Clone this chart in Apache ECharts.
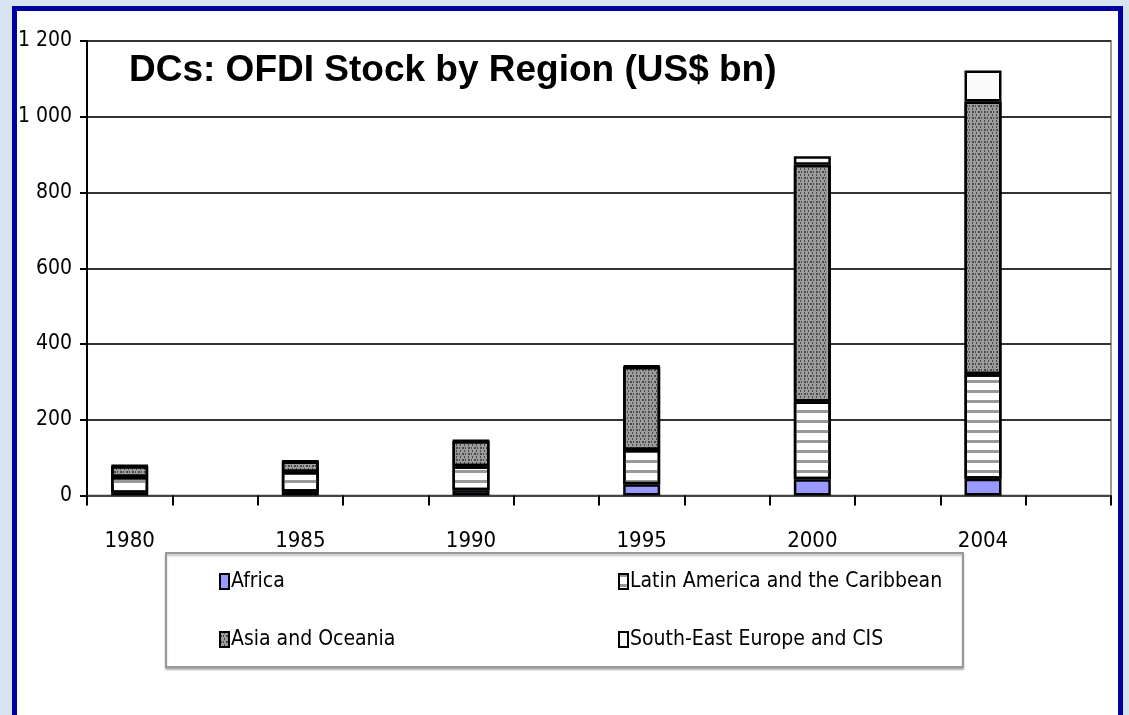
<!DOCTYPE html>
<html>
<head>
<meta charset="utf-8">
<script src="https://cdn.jsdelivr.net/npm/echarts@6/dist/echarts.min.js"></script>
<style>
    html, body { margin: 0; padding: 0; background: #d8e3f1; }
    #main { width: 1129px; height: 715px; }
</style>
</head>
<body>
<div id="main"></div>
<script>
// values (US$ bn, stacked)
const years = ['1980', '1985', '1990', '1995', '2000', '2004'];
const africa = [7, 10, 14, 30, 43, 44];
const latinAmerica = [42, 52, 63, 90, 205, 276];
const asiaOceania = [29, 28, 67, 220, 625, 720];
const seEurope = [1, 1, 1, 2, 23, 82];
const yTicks = [0, 200, 400, 600, 800, 1000, 1200];

const narrow = '"Liberation Sans Narrow", "Arial Narrow", "DejaVu Sans Condensed", sans-serif';

// every year sits in its own slot with an empty slot after it
let slots = [];
years.forEach(y => { slots.push(y); slots.push(''); });
function spread(arr) {
    let out = [];
    arr.forEach(v => { out.push(v); out.push('-'); });
    return out;
}

let chart = echarts.init(document.getElementById('main'));

let barBase = {
    type: 'bar',
    stack: 'total',
    barWidth: 37,
    emphasis: { disabled: true }
};

let legendBase = {
    orient: 'vertical',
    top: 566,
    itemGap: 37,
    itemWidth: 9,
    itemHeight: 15,
    icon: 'rect',
    selectedMode: false,
    itemStyle: { borderColor: '#000', borderWidth: 2 },
    textStyle: { fontFamily: narrow, fontSize: 21, color: '#000', padding: [0, 0, 0, -3] }
};

const option = {
    animation: false,
    graphic: [{
        type: 'rect',
        z: -10,
        shape: { x: 14.5, y: 8.5, width: 1106, height: 800 },
        style: { fill: '#fff', stroke: '#0000a0', lineWidth: 5 }
    }, {
        // legend frame
        type: 'rect',
        z: -5,
        shape: { x: 166, y: 553, width: 797, height: 114 },
        style: { fill: '#fff', stroke: '#999', lineWidth: 2, shadowColor: 'rgba(0,0,0,0.25)', shadowOffsetY: 2, shadowBlur: 2 }
    }],
    title: {
        text: 'DCs: OFDI Stock by Region (US$ bn)',
        left: 124,
        top: 47,
        textStyle: { fontFamily: 'Liberation Sans, Arial, sans-serif', fontSize: 37, fontWeight: 'bold', color: '#000' }
    },
    grid: {
        left: 87,
        right: 18,
        top: 41,
        bottom: 219.5,
        show: true,
        borderColor: '#999',
        borderWidth: 2,
        backgroundColor: 'transparent'
    },
    legend: [
        Object.assign({}, legendBase, { left: 214, data: ['Africa', 'Asia and Oceania'] }),
        Object.assign({}, legendBase, { left: 613, data: ['Latin America and the Caribbean', 'South-East Europe and CIS'] })
    ],
    xAxis: {
        type: 'category',
        data: slots,
        axisLine: { lineStyle: { color: '#444', width: 2 } },
        axisTick: { show: true, interval: 0, length: 10, lineStyle: { color: '#000', width: 2 } },
        axisLabel: { interval: 0, margin: 35, fontFamily: narrow, fontSize: 22, color: '#000' }
    },
    yAxis: {
        type: 'value',
        min: yTicks[0],
        max: yTicks[yTicks.length - 1],
        interval: 200,
        axisLine: { show: true, lineStyle: { color: '#000', width: 2 } },
        axisTick: { show: true, length: 7, lineStyle: { color: '#000', width: 2 } },
        axisLabel: {
            margin: 15,
            fontFamily: narrow,
            fontSize: 21,
            color: '#000',
            formatter: v => String(v).replace(/\B(?=(\d{3})+(?!\d))/g, ' ')
        },
        splitLine: { lineStyle: { color: '#333', width: 2 } }
    },
    series: [
        Object.assign({}, barBase, {
            name: 'Africa',
            itemStyle: { color: '#9999ff', borderColor: '#000', borderWidth: 2.5 },
            data: spread(africa)
        }),
        Object.assign({}, barBase, {
            name: 'Latin America and the Caribbean',
            itemStyle: {
                color: '#fff', borderColor: '#000', borderWidth: 2.5,
                decal: { color: '#999', symbol: 'rect', symbolSize: 1, dashArrayX: [1, 0], dashArrayY: [3, 7], rotation: 0 }
            },
            data: spread(latinAmerica)
        }),
        Object.assign({}, barBase, {
            name: 'Asia and Oceania',
            itemStyle: {
                color: '#9c9c9c', borderColor: '#000', borderWidth: 2.5,
                decal: { color: 'rgba(30,30,30,0.65)', symbol: 'rect', symbolSize: 1, dashArrayX: [[2, 1, 1, 2], [1, 3]], dashArrayY: [2, 1], rotation: 0 }
            },
            data: spread(asiaOceania)
        }),
        Object.assign({}, barBase, {
            name: 'South-East Europe and CIS',
            itemStyle: { color: '#fafafa', borderColor: '#000', borderWidth: 2.5 },
            data: spread(seEurope)
        })
    ]
};
chart.setOption(option);

window.addEventListener('resize', function () {
    chart.resize();
});
</script>
</body>
</html>
